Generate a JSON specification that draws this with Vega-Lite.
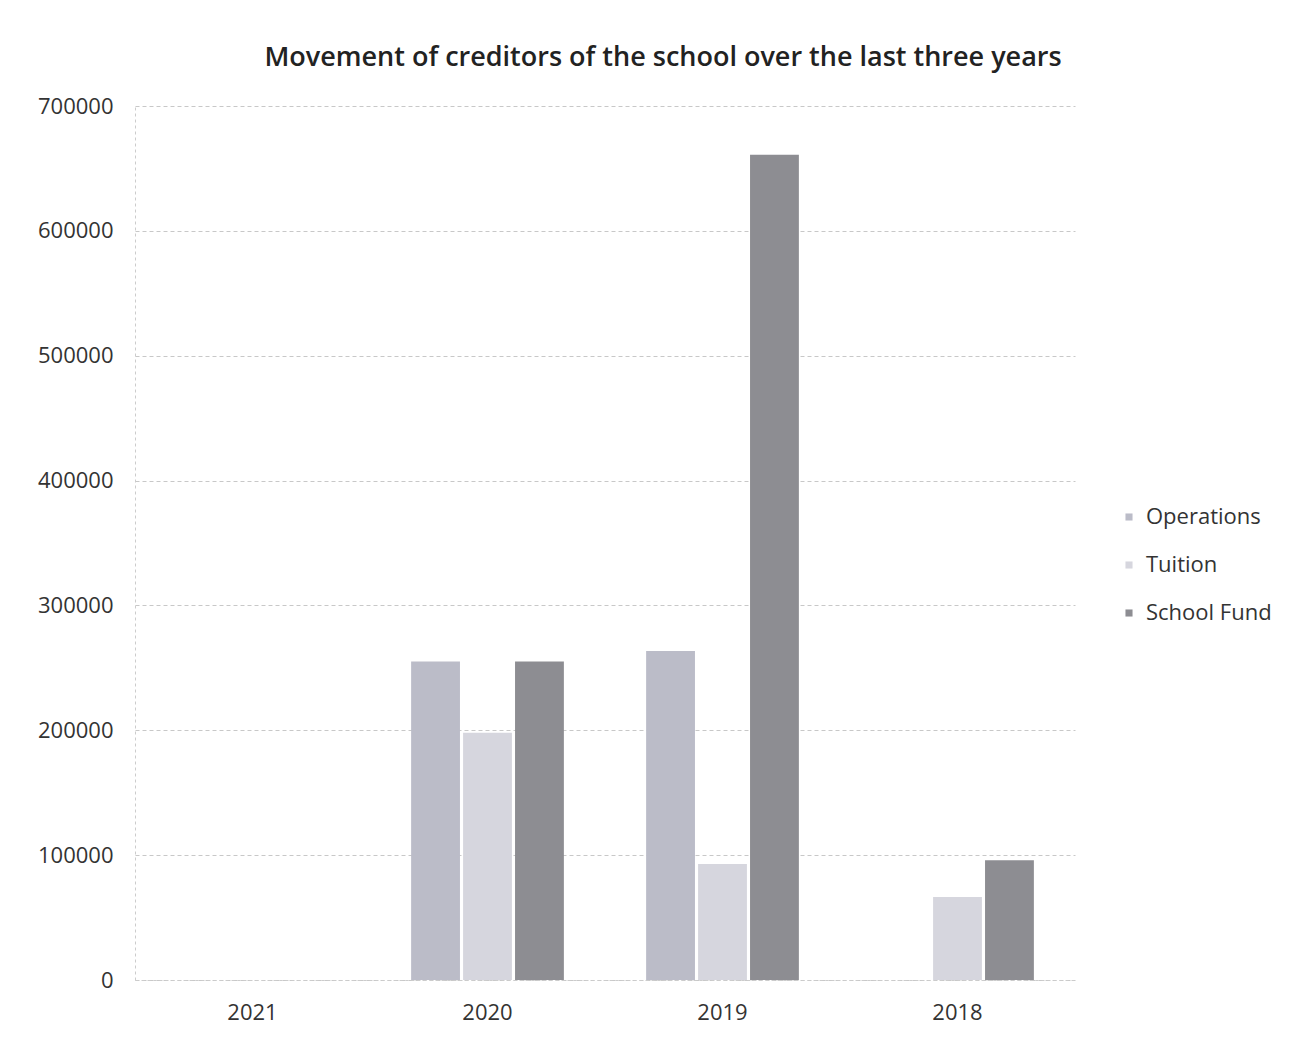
{
  "$schema": "https://vega.github.io/schema/vega-lite/v6.json",
  "autosize": "none",
  "width": 940,
  "height": 874,
  "padding": {"left": 135, "top": 106, "right": 218, "bottom": 60},
  "background": "white",
  "title": {
    "text": "Movement of creditors of the school over the last three years",
    "font": "Open Sans",
    "fontSize": 27,
    "fontWeight": 600,
    "color": "#222222",
    "anchor": "middle",
    "dx": 58,
    "offset": 23
  },
  "data": {
    "values": [
      {"year": "2021", "series": "Operations", "value": 0},
      {"year": "2021", "series": "Tuition", "value": 0},
      {"year": "2021", "series": "School Fund", "value": 0},
      {"year": "2020", "series": "Operations", "value": 255000},
      {"year": "2020", "series": "Tuition", "value": 198000},
      {"year": "2020", "series": "School Fund", "value": 255000},
      {"year": "2019", "series": "Operations", "value": 263500},
      {"year": "2019", "series": "Tuition", "value": 93000},
      {"year": "2019", "series": "School Fund", "value": 661000},
      {"year": "2018", "series": "Operations", "value": 0},
      {"year": "2018", "series": "Tuition", "value": 66500},
      {"year": "2018", "series": "School Fund", "value": 96000}
    ]
  },
  "mark": {"type": "bar"},
  "encoding": {
    "x": {
      "field": "year",
      "type": "nominal",
      "sort": ["2021", "2020", "2019", "2018"],
      "scale": {"paddingInner": 0.35, "paddingOuter": 0.175},
      "axis": {
        "title": null,
        "labelAngle": 0,
        "labelFont": "Open Sans",
        "labelFontSize": 22,
        "labelColor": "#333333",
        "labelPadding": 22,
        "ticks": false,
        "domain": true,
        "domainColor": "#cccccc",
        "domainDash": [3, 3],
        "grid": false
      }
    },
    "xOffset": {
      "field": "series",
      "type": "nominal",
      "sort": ["Operations", "Tuition", "School Fund"],
      "scale": {"paddingInner": 0.06}
    },
    "y": {
      "field": "value",
      "type": "quantitative",
      "scale": {"domain": [0, 700000], "nice": false},
      "axis": {
        "title": null,
        "values": [0, 100000, 200000, 300000, 400000, 500000, 600000, 700000],
        "format": "d",
        "labelFont": "Open Sans",
        "labelFontSize": 22,
        "labelColor": "#333333",
        "labelPadding": 22,
        "ticks": false,
        "domain": true,
        "domainColor": "#cccccc",
        "domainDash": [3, 3],
        "grid": true,
        "gridColor": "#c8c8c8",
        "gridDash": [4, 3],
        "gridWidth": 1
      }
    },
    "color": {
      "field": "series",
      "type": "nominal",
      "sort": ["Operations", "Tuition", "School Fund"],
      "scale": {
        "domain": ["Operations", "Tuition", "School Fund"],
        "range": ["#bbbcc8", "#d6d6de", "#8d8d92"]
      },
      "legend": {
        "title": null,
        "orient": "none",
        "legendX": 983,
        "legendY": 400,
        "symbolType": "square",
        "symbolSize": 50,
        "labelFont": "Open Sans",
        "labelFontSize": 22,
        "labelColor": "#333333",
        "rowPadding": 26,
        "labelOffset": 6
      }
    }
  },
  "config": {
    "view": {"stroke": null}
  }
}
